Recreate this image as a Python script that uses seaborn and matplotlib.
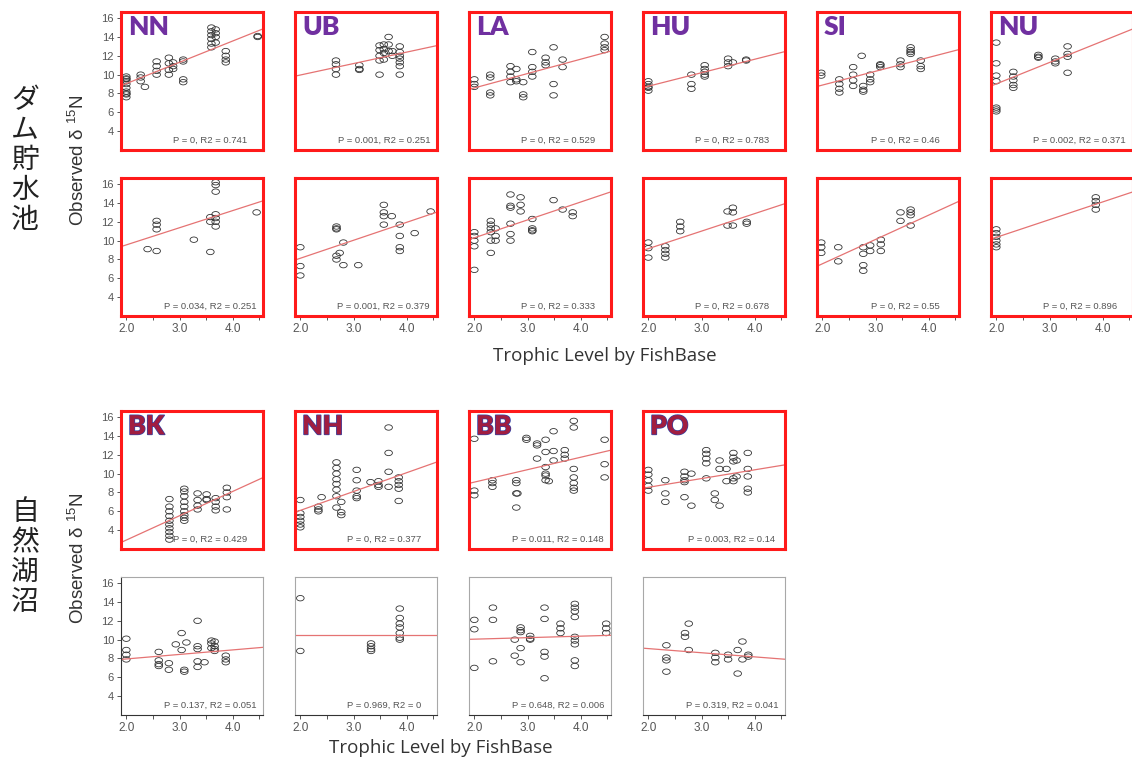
import matplotlib
matplotlib.use("Agg")
import numpy as np
import pandas as pd
import matplotlib.pyplot as plt
import matplotlib.patheffects as pe
from matplotlib.path import Path
from matplotlib.transforms import Affine2D
import seaborn as sns

sns.set_theme(style="white")
plt.rcParams["font.family"] = ["Liberation Sans", "DejaVu Sans"]
plt.rcParams["mathtext.fontset"] = "custom"
plt.rcParams["mathtext.rm"] = "Liberation Sans"

# ---- observations: (trophic level, [observed d15N, ...]) ----
# reservoirs, upper row
NN_1 = [(2.0, [7.6, 7.9, 8.2, 8.6, 9.0, 9.3, 9.6, 9.8, 8.0, 9.5]), (2.27, [10.0, 9.7, 9.3]),
        (2.35, [8.7]), (2.57, [11.4, 10.9, 10.4, 10.0]), (2.8, [11.8, 11.2, 10.5, 10.0]),
        (2.88, [11.3, 10.9, 10.6]), (3.07, [11.6, 11.4, 9.5, 9.2]),
        (3.6, [15.0, 14.6, 14.2, 13.8, 13.3, 12.9]), (3.68, [14.8, 14.4, 14.0, 13.4]),
        (3.87, [12.5, 12.0, 11.6, 11.3]), (4.47, [14.1, 14.0])]
UB_1 = [(2.67, [11.5, 11.1, 10.6, 10.0]), (3.11, [11.0, 10.6, 10.5]),
        (3.49, [13.1, 12.6, 12.0, 11.5, 10.0]), (3.57, [13.2, 12.7, 12.3, 11.6]),
        (3.66, [14.0, 13.2, 12.5]), (3.73, [12.5, 12.0]),
        (3.87, [13.0, 12.4, 12.0, 11.7, 11.3, 10.9, 10.0])]
LA_1 = [(2.0, [9.5, 9.0, 8.7]), (2.3, [10.0, 9.7, 8.1, 7.8]), (2.68, [10.9, 10.3, 9.8, 9.2]),
        (2.79, [10.6, 9.5, 9.3]), (2.92, [9.2, 7.9, 7.6]), (3.09, [12.4, 10.8, 10.3, 9.8]),
        (3.34, [11.8, 11.3, 11.0]), (3.49, [12.9, 9.0, 7.8]), (3.66, [11.6, 10.8]),
        (4.45, [14.0, 13.3, 12.9, 12.6])]
HU_1 = [(2.0, [9.3, 9.0, 8.7, 8.3, 8.6]), (2.81, [10.0, 9.0, 8.5]),
        (3.06, [11.0, 10.6, 10.3, 10.0, 9.8]), (3.5, [11.7, 11.3, 10.9]),
        (3.59, [11.3]), (3.84, [11.5, 11.6])]
SI_1 = [(1.98, [10.2, 9.9]), (2.32, [9.5, 9.0, 8.5, 8.1]), (2.58, [10.8, 10.0, 9.4, 8.8]),
        (2.74, [12.0]), (2.77, [8.8, 8.4, 8.2]), (2.9, [10.0, 9.5, 9.2]),
        (3.09, [11.0, 10.8, 11.1]), (3.47, [11.5, 11.1, 10.8]),
        (3.66, [12.9, 12.6, 12.2, 12.4]), (3.85, [11.5, 10.9, 10.6])]
NU_1 = [(2.0, [13.4, 11.2, 9.9, 9.3, 6.5, 6.1, 6.3]), (2.32, [10.3, 9.8, 9.4, 8.9, 8.6]),
        (2.79, [12.1, 11.9, 11.8]), (3.11, [11.7, 11.4, 11.2]),
        (3.34, [13.0, 12.2, 11.9, 10.2])]
# reservoirs, lower row
NN_2 = [(2.4, [9.1]), (2.57, [12.1, 11.7, 11.2, 8.9]), (3.27, [10.1]), (3.58, [12.5, 12.0, 8.8]),
        (3.68, [16.2, 15.9, 15.2, 12.8, 12.4, 12.0, 11.5]), (4.45, [13.0])]
UB_2 = [(2.0, [9.3, 7.3, 6.3]), (2.68, [11.5, 11.2, 11.3, 8.4, 8.0]), (2.74, [8.7]),
        (2.81, [9.8, 7.4]), (3.09, [7.4]), (3.57, [13.8, 13.0, 12.6, 11.7]), (3.72, [12.6]),
        (3.87, [11.7, 10.5, 9.3, 8.9]), (4.15, [10.8]), (4.45, [13.1])]
LA_2 = [(2.0, [10.9, 10.5, 10.0, 9.4, 6.9]), (2.31, [12.1, 11.7, 11.3, 10.9, 10.0, 8.7]),
        (2.4, [11.3, 10.5, 10.0]), (2.68, [14.9, 13.7, 13.5, 11.8, 10.7, 10.0]),
        (2.87, [14.6, 13.8, 13.1]), (3.09, [12.3, 11.3, 11.0, 11.1]), (3.49, [14.3]),
        (3.66, [13.3]), (3.85, [13.0, 12.6])]
HU_2 = [(2.0, [9.8, 9.2, 8.2]), (2.32, [9.4, 9.0, 8.6, 8.2]), (2.6, [12.0, 11.5, 11.0]),
        (3.49, [13.1, 11.6]), (3.59, [13.5, 13.0, 11.6]), (3.85, [12.0, 11.8])]
SI_2 = [(1.98, [9.8, 9.3, 8.7]), (2.3, [9.3, 7.8]), (2.77, [9.3, 8.6, 7.4, 6.8]),
        (2.9, [9.5, 8.9]), (3.1, [10.1, 9.6, 8.9]), (3.47, [13.0, 12.1]),
        (3.66, [13.3, 13.0, 12.7, 11.6])]
NU_2 = [(2.0, [11.2, 10.8, 10.4, 10.0, 9.6, 9.3]), (3.87, [14.6, 14.2, 13.8, 13.3])]
# lakes, upper row
BK_1 = [(2.81, [7.3, 6.5, 6.0, 5.5, 5.0, 4.6, 4.2, 3.8, 3.4, 3.0]),
        (3.09, [8.4, 8.1, 7.6, 7.0, 6.5, 6.0, 5.6, 5.3, 5.0]), (3.34, [7.9, 7.2, 6.6, 6.2]),
        (3.51, [7.8, 7.3, 7.2]), (3.68, [7.4, 7.0, 6.5, 6.1]), (3.89, [8.5, 8.0, 7.5, 6.2])]
NH_1 = [(2.0, [7.2, 5.8, 5.4, 5.0, 4.6, 4.3]), (2.34, [6.5, 6.2, 6.0]), (2.4, [7.5]),
        (2.68, [11.2, 10.6, 10.0, 9.4, 8.9, 8.3, 7.6, 6.4]), (2.77, [7.0, 5.9, 5.6]),
        (3.06, [10.4, 9.3, 8.2, 7.6, 7.4]), (3.32, [9.1]), (3.47, [9.2, 8.8, 8.6]),
        (3.66, [14.9, 12.2, 10.2, 8.6]), (3.85, [9.6, 9.2, 8.8, 8.4, 7.1])]
BB_1 = [(2.0, [13.7, 8.2, 7.7]), (2.34, [9.3, 9.0, 8.6]), (2.79, [9.3, 9.0, 7.9, 6.4]),
        (2.81, [7.9]), (2.98, [13.8, 13.6]), (3.18, [13.2, 13.0, 11.6]),
        (3.34, [13.6, 12.3, 10.7, 10.0, 9.8, 9.3]), (3.4, [9.2]), (3.49, [14.5, 12.4, 11.4]),
        (3.7, [12.5, 12.0, 11.6]), (3.87, [15.6, 14.9, 10.5, 9.6, 9.0, 8.5, 8.2]),
        (4.45, [13.6, 11.0, 9.6])]
PO_1 = [(2.0, [10.4, 9.9, 9.3, 8.7, 8.2]), (2.32, [9.3, 7.9, 7.0]),
        (2.68, [10.2, 9.7, 9.3, 9.1, 7.5]), (2.81, [10.0, 6.6]),
        (3.09, [12.5, 12.1, 11.6, 11.1, 9.5]), (3.25, [7.9, 7.2]), (3.34, [11.4, 10.5, 6.6]),
        (3.47, [10.5, 9.2]), (3.6, [12.2, 11.7, 11.3, 9.5, 9.2]), (3.66, [11.4, 9.7]),
        (3.87, [12.2, 10.5, 9.7, 8.4, 8.0])]
# lakes, lower row
BK_2 = [(2.0, [10.1, 8.9, 8.4, 7.9]), (2.61, [8.7, 7.8, 7.4, 7.2]), (2.8, [7.5, 6.8]),
        (2.93, [9.5]), (3.04, [10.7, 8.9]), (3.09, [6.8, 6.6]), (3.13, [9.7]),
        (3.34, [12.0, 9.3, 9.0, 7.7, 7.1]), (3.47, [7.6]), (3.6, [9.9, 9.6, 9.1]),
        (3.66, [9.8, 9.3, 9.0, 8.8]), (3.87, [8.3, 7.9, 7.6])]
NH_2 = [(2.0, [14.4, 8.8]), (3.33, [9.6, 9.3, 9.0, 8.8]),
        (3.87, [13.3, 12.3, 11.7, 11.3, 10.7, 10.2, 10.0])]
BB_2 = [(2.0, [12.1, 11.1, 7.0]), (2.35, [13.4, 12.1, 7.7]), (2.76, [10.0, 8.3]),
        (2.87, [11.3, 10.8, 11.0, 9.1, 7.6]), (3.05, [10.4, 10.1, 10.0]),
        (3.32, [13.4, 12.2, 8.7, 8.2, 5.9]), (3.62, [11.7, 11.2, 10.7]),
        (3.89, [13.8, 13.4, 13.0, 12.4, 10.3, 9.9, 9.5, 7.8, 7.2]), (4.48, [11.7, 11.2, 10.7])]
PO_2 = [(2.34, [9.4, 8.1, 7.8, 6.6]), (2.69, [10.7, 10.3]), (2.76, [11.7, 8.9]),
        (3.26, [8.6, 8.1, 7.6]), (3.5, [8.4, 7.9]), (3.68, [8.9, 6.4]), (3.77, [9.8, 7.9]),
        (3.88, [8.4, 8.2])]

# ---- fitted lines: predicted d15N at trophic level 2.0 and 4.5 ----
fit_at_2_0 = [9.05, 9.96, 8.59, 8.77, 8.89, 9.02,
              9.55, 8.13, 10.3, 9.15, 7.54, 10.35,
              2.95, 6.1, 9.1, 8.55,
              7.95, 10.5, 10.05, 9.05]
fit_at_4_5 = [14.7, 13.0, 12.4, 12.35, 12.56, 14.7,
              14.1, 12.9, 15.05, 13.8, 14.0, 15.05,
              9.4, 11.1, 12.4, 10.87,
              9.15, 10.5, 10.45, 7.95]

stats = ["P = 0, R2 = 0.741", "P = 0.001, R2 = 0.251", "P = 0, R2 = 0.529",
         "P = 0, R2 = 0.783", "P = 0, R2 = 0.46", "P = 0.002, R2 = 0.371",
         "P = 0.034, R2 = 0.251", "P = 0.001, R2 = 0.379", "P = 0, R2 = 0.333",
         "P = 0, R2 = 0.678", "P = 0, R2 = 0.55", "P = 0, R2 = 0.896",
         "P = 0, R2 = 0.429", "P = 0, R2 = 0.377", "P = 0.011, R2 = 0.148",
         "P = 0.003, R2 = 0.14",
         "P = 0.137, R2 = 0.051", "P = 0.969, R2 = 0", "P = 0.648, R2 = 0.006",
         "P = 0.319, R2 = 0.041"]

site_labels = ["NN", "UB", "LA", "HU", "SI", "NU", None, None, None, None, None, None,
               "BK", "NH", "BB", "PO", None, None, None, None]
panels = [NN_1, UB_1, LA_1, HU_1, SI_1, NU_1, NN_2, UB_2, LA_2, HU_2, SI_2, NU_2,
          BK_1, NH_1, BB_1, PO_1, BK_2, NH_2, BB_2, PO_2]

y_ticks = [4, 6, 8, 10, 12, 14, 16]
x_ticks = [2.0, 3.0, 4.0]
x_minor = [2.5, 3.5, 4.5]

# ---- layout (pixels) ----
W, H = 1132, 760
col_left = [121, 295, 469, 643, 817, 991]
row_top = [12, 178, 411, 577]
pw, ph = 142, 138
# (row, col) for each panel
cells = [(0, c) for c in range(6)] + [(1, c) for c in range(6)] + \
        [(2, c) for c in range(4)] + [(3, c) for c in range(4)]

XLIM = (1.9, 4.57)
YLIM = (2.0, 16.65)

ellipse = Path.unit_circle().transformed(Affine2D().scale(1.4, 1.0))

fig = plt.figure(figsize=(W / 100, H / 100), dpi=100)
fig.patch.set_facecolor("white")

for i, (groups, (r, c)) in enumerate(zip(panels, cells)):
    ax = fig.add_axes([col_left[c] / W, 1 - (row_top[r] + ph) / H, pw / W, ph / H])
    df = pd.DataFrame([(tl, v) for tl, vals in groups for v in vals], columns=["TL", "d15N"])
    sns.scatterplot(data=df, x="TL", y="d15N", ax=ax, marker=ellipse, s=30,
                    facecolor="none", edgecolor="#333333", linewidth=0.6, legend=False)
    xs = np.array(XLIM)
    slope = (fit_at_4_5[i] - fit_at_2_0[i]) / 2.5
    line = pd.DataFrame({"TL": xs, "d15N": fit_at_2_0[i] + slope * (xs - 2.0)})
    sns.lineplot(data=line, x="TL", y="d15N", ax=ax, color="#e57373", linewidth=0.9)
    ax.set_xlim(*XLIM)
    ax.set_ylim(*YLIM)
    ax.set_xlabel("")
    ax.set_ylabel("")
    ax.set_facecolor("white")

    red = r < 3
    for sp in ax.spines.values():
        sp.set_visible(True)
        if red:
            sp.set_color("#ff1a1a")
            sp.set_linewidth(2.2)
        else:
            sp.set_color("#a8a8a8")
            sp.set_linewidth(0.8)
    if not red:
        ax.spines["bottom"].set_color("#333333")
        if c == 0:
            ax.spines["left"].set_color("#333333")

    ax.set_yticks(y_ticks)
    if c == 0:
        ax.set_yticklabels([str(t) for t in y_ticks], fontsize=8, color="#555555")
        ax.tick_params(axis="y", length=3, width=0.7, color="#555555", pad=2, left=True)
    else:
        ax.set_yticklabels([])
        ax.tick_params(axis="y", left=False)

    ax.set_xticks(x_ticks)
    ax.set_xticks(x_minor, minor=True)
    if r in (1, 3):
        ax.set_xticklabels([f"{t:.1f}" for t in x_ticks], fontsize=8.5, color="#555555")
        ax.tick_params(axis="x", which="both", length=3, width=0.7, color="#555555",
                       pad=2, bottom=True)
    else:
        ax.set_xticklabels([])
        ax.tick_params(axis="x", which="both", bottom=False)

    ax.text(0.625, 0.04, stats[i], transform=ax.transAxes, ha="center", va="bottom",
            fontsize=6.8, color="#555555")

    lab = site_labels[i]
    if lab is not None:
        if r == 0:
            ax.text(0.05, 0.975, lab, transform=ax.transAxes, ha="left", va="top",
                    fontsize=19, fontweight="heavy", family="Lato", color="#7030a0")
        else:
            t = ax.text(0.05, 0.975, lab, transform=ax.transAxes, ha="left", va="top",
                        fontsize=19, fontweight="heavy", family="Lato", color="#a11d40")
            t.set_path_effects([pe.withStroke(linewidth=1.0, foreground="#3346a8")])

# group labels (vertical Japanese)
fig.text(25 / W, 1 - 160 / H, "\n".join("ダム貯水池"), ha="center", va="center",
         fontsize=20, family=["Noto Sans CJK JP", "DejaVu Sans"], color="#222222",
         linespacing=1.0)
fig.text(25 / W, 1 - 557 / H, "\n".join("自然湖沼"), ha="center", va="center",
         fontsize=20, family=["Noto Sans CJK JP", "DejaVu Sans"], color="#222222",
         linespacing=1.0)

ylab = r"Observed δ $\mathregular{^{15}}$N"
fig.text(78 / W, 1 - 160 / H, ylab, rotation=90, ha="center", va="center",
         fontsize=13.5, color="#333333")
fig.text(78 / W, 1 - 558 / H, ylab, rotation=90, ha="center", va="center",
         fontsize=13.5, color="#333333")

fig.text(605 / W, 1 - 356 / H, "Trophic Level by FishBase", ha="center", va="center",
         fontsize=13.5, family="Open Sans", color="#333333")
fig.text(441 / W, 1 - 748 / H, "Trophic Level by FishBase", ha="center", va="center",
         fontsize=13.5, family="Open Sans", color="#333333")

fig.savefig("out.png", dpi=100, facecolor="white")
